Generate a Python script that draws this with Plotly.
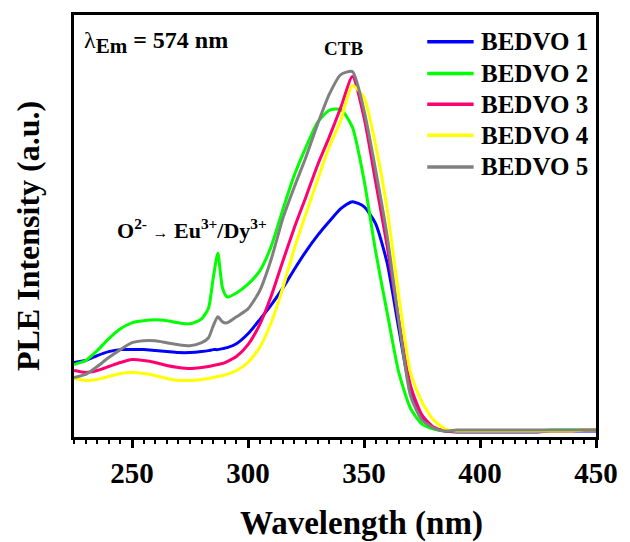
import plotly.graph_objects as go

wavelength = [225, 230, 235, 240, 245, 250, 255, 260, 265, 270, 275, 280, 283, 285, 287, 289, 291,
              295, 300, 305, 310, 315, 320, 325, 330, 335, 340, 345, 350, 355, 360, 365, 370, 375,
              380, 385, 390, 395, 400, 405, 410, 415, 420, 425, 430, 435, 440, 445, 450]

bedvo1 = [75, 77, 82, 86, 88, 88, 88, 87, 86, 85, 85, 86, 87, 88, 88, 89, 90,
          94, 104, 118, 133, 150, 169, 187, 203, 217, 230, 237, 232, 215, 175, 109, 47, 19,
          9, 6, 5, 5, 5, 5, 5, 5, 5, 5, 6, 6, 6, 6, 6]
bedvo2 = [73, 77, 87, 99, 109, 115, 117, 118, 117, 115, 114, 119, 130, 160, 185, 150, 141,
          145, 154, 167, 192, 229, 264, 292, 317, 329, 330, 312, 259, 187, 125, 65, 29, 13,
          8, 6, 6, 6, 6, 6, 6, 6, 6, 6, 7, 7, 7, 7, 7]
bedvo3 = [67, 65, 67, 71, 75, 78, 77, 75, 72, 70, 69, 70, 71, 72, 73, 74, 76,
          81, 93, 113, 142, 177, 211, 242, 274, 302, 332, 363, 322, 257, 192, 117, 52, 22,
          10, 6, 6, 6, 6, 6, 6, 6, 6, 6, 6, 6, 6, 7, 7]
bedvo4 = [59, 57, 58, 61, 64, 65, 64, 62, 59, 57, 57, 58, 59, 60, 61, 62, 63,
          67, 75, 90, 115, 150, 190, 225, 259, 292, 319, 354, 342, 294, 229, 142, 65, 35,
          17, 8, 6, 6, 6, 6, 6, 6, 6, 6, 6, 6, 6, 7, 7]
bedvo5 = [60, 63, 71, 80, 88, 95, 97, 97, 95, 93, 92, 95, 100, 112, 121, 116, 115,
          121, 129, 147, 179, 220, 252, 282, 315, 345, 365, 368, 329, 269, 202, 117, 42, 17,
          9, 6, 7, 7, 7, 7, 7, 7, 7, 7, 7, 7, 7, 7, 7]

series_names = ["BEDVO 1", "BEDVO 2", "BEDVO 3", "BEDVO 4", "BEDVO 5"]
series_values = [bedvo1, bedvo2, bedvo3, bedvo4, bedvo5]
series_colors = ["#0000FF", "#00FF00", "#FF0070", "#FFFF00", "#808080"]

x_ticks = [250, 300, 350, 400, 450]

FONT = "Liberation Serif"

# plot area in pixels (for placing paper-referenced text)
L, R, T, B = 74, 603, 12, 437
def px(xp):
    return (xp - L) / (R - L)
def py(yp):
    return (B - yp) / (B - T)

fig = go.Figure()
for name, vals, col in zip(series_names, series_values, series_colors):
    fig.add_trace(go.Scatter(
        x=wavelength, y=vals, mode="lines", name=name,
        line=dict(color=col, width=3, shape="spline", smoothing=0.6),
    ))

fig.update_layout(
    width=630, height=542,
    margin=dict(l=L, r=630 - R, t=T, b=542 - B),
    plot_bgcolor="white", paper_bgcolor="white",
    font=dict(family=FONT, color="black"),
    showlegend=False,
)

fig.update_xaxes(
    range=[225, 450],
    tickvals=x_ticks,
    ticktext=[f"<b>{v}</b>" for v in x_ticks],
    tickfont=dict(family=FONT, size=29, color="black"),
    ticks="outside", ticklen=8, tickwidth=2.5, tickcolor="black",
    minor=dict(ticks="outside", ticklen=4, tickwidth=2, tickcolor="black", dtick=5, tick0=225),
    showline=True, linewidth=2.5, linecolor="black", mirror=True,
    showgrid=False, zeroline=False,
)
fig.update_yaxes(
    range=[0, 425],
    showticklabels=False, ticks="",
    showline=True, linewidth=2.5, linecolor="black", mirror=True,
    showgrid=False, zeroline=False,
)

# axis titles
fig.add_annotation(
    x=px(365), y=py(524), xref="paper", yref="paper", xanchor="center", yanchor="middle",
    text="<b>Wavelength (nm)</b>", showarrow=False,
    font=dict(family=FONT, size=33, color="black"),
)
fig.add_annotation(
    x=px(28), y=py(235), xref="paper", yref="paper", xanchor="center", yanchor="middle",
    text="<b>PLE Intensity (a.u.)</b>", showarrow=False, textangle=-90,
    font=dict(family=FONT, size=32, color="black"),
)

# legend drawn by hand to match the reference layout
legend_rows = [39, 71, 102, 133, 165]
for name, col, ry in zip(series_names, series_colors, legend_rows):
    fig.add_shape(type="line", xref="paper", yref="paper",
                  x0=px(432), x1=px(479), y0=py(ry), y1=py(ry),
                  line=dict(color=col, width=3.5))
    fig.add_annotation(
        x=px(484), y=py(ry), xref="paper", yref="paper", xanchor="left", yanchor="middle",
        text=f"<b>{name}</b>", showarrow=False,
        font=dict(family=FONT, size=25, color="black"),
    )

fig.add_annotation(
    x=px(82), y=py(40), xref="paper", yref="paper", xanchor="left", yanchor="middle",
    text="λ<sub><span style='font-size:21px'><b>Em</b></span></sub><b> = 574 nm</b>", showarrow=False,
    font=dict(family=FONT, size=24, color="black"),
)
fig.add_annotation(
    x=341, y=391, xref="x", yref="y", xanchor="center", yanchor="middle",
    text="<b>CTB</b>", showarrow=False,
    font=dict(family=FONT, size=19, color="black"),
)
fig.add_annotation(
    x=px(194), y=py(228), xref="paper", yref="paper", xanchor="center", yanchor="middle",
    text="<b>O<sup>2-</sup></b> <span style='font-size:16px'>→</span> <b>Eu<sup>3+</sup>/Dy<sup>3+</sup></b>",
    showarrow=False,
    font=dict(family=FONT, size=22, color="black"),
)

fig.write_html("out.html")
